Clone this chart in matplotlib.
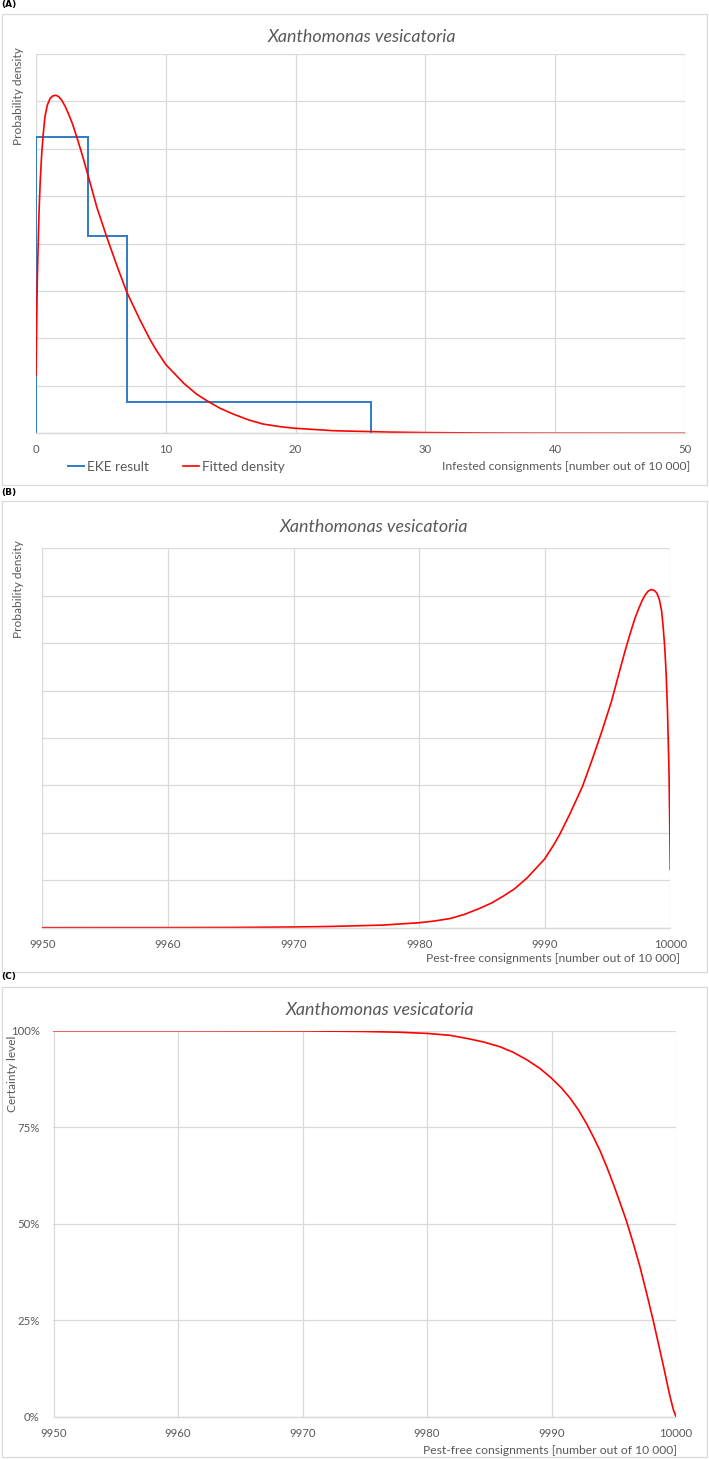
"""
Xanthomonas vesicatoria: EKE result, fitted density and certainty level
(infested vs. pest-free consignments out of 10 000).
"""

import matplotlib
matplotlib.use("Agg")
import matplotlib.pyplot as plt
from matplotlib.patches import Rectangle
from matplotlib.ticker import FixedLocator, PercentFormatter

# --- data ---
infested = [0.0, 0.05, 0.10, 0.15, 0.23, 0.33, 0.44, 0.57, 0.69, 0.87,
            1.08, 1.29, 1.54, 1.77, 1.98, 2.24, 2.49, 2.8, 3.14, 3.57,
            4.04, 4.68, 5.45, 6.22, 6.99, 8.02, 8.8, 9.31, 10.0, 11.4,
            12.4, 13.3, 14.2, 15.2, 16.4, 17.5, 18.8, 20.0, 22.9, 25.8,
            27.3, 30.0, 35.0, 40.0, 50.0]
fitted_density = [0.0245, 0.046, 0.0646, 0.0758, 0.0927, 0.107, 0.118,
                  0.127, 0.1335, 0.1384, 0.1412, 0.1423, 0.1426, 0.1419,
                  0.1405, 0.138, 0.1349, 0.1307, 0.125, 0.1173, 0.1082,
                  0.0955, 0.0828, 0.0709, 0.0596, 0.0477, 0.0394, 0.0347,
                  0.029, 0.0210, 0.0164, 0.0133, 0.0105, 0.0081, 0.0056,
                  0.0039, 0.0028, 0.0021, 0.0011, 0.0007, 0.0005, 0.0003,
                  0.0001, 0.00003, 0.0]

eke_edges = [0.0, 4.0, 7.0, 25.8]
eke_heights = [0.125, 0.0833, 0.0133]

pest_free = [9950, 9960, 9970, 9975, 9977.8, 9980, 9981.85, 9983.2,
             9984.52, 9985.9, 9986.93, 9988.0, 9989.08, 9990, 9990.82,
             9991.5, 9992.16, 9992.8, 9993.36, 9993.9, 9994.43, 9995.0,
             9995.5, 9996.0, 9996.57, 9997.1, 9997.64, 9998.2, 9998.58,
             9999.0, 9999.25, 9999.5, 9999.79, 10000]
certainty = [1.0, 1.0, 0.9995, 0.998, 0.996, 0.993, 0.988, 0.980, 0.971,
             0.958, 0.944, 0.925, 0.902, 0.877, 0.851, 0.825, 0.795, 0.760,
             0.725, 0.689, 0.648, 0.600, 0.555, 0.509, 0.449, 0.389, 0.320,
             0.245, 0.190, 0.130, 0.092, 0.055, 0.018, 0.0]

title = "Xanthomonas vesicatoria"
xticks_a = [0, 10, 20, 30, 40, 50]
xticks_bc = [9950, 9960, 9970, 9980, 9990, 10000]
yticks_c = [0.0, 0.25, 0.5, 0.75, 1.0]

# --- styling ---
W, H = 709, 1459
plt.rcParams["font.family"] = ["Lato", "DejaVu Sans"]
TXT = "#595959"
GRID = "#d9d9d9"
RED = "#ff0000"
BLUE = "#2e7bc4"


def fx(px):
    return px / W


def fy(py):
    return 1 - py / H


def add_axes(left, top, right, bottom):
    return fig.add_axes([fx(left), fy(bottom), fx(right - left),
                         (bottom - top) / H])


def style(ax):
    ax.grid(True, color=GRID, linewidth=0.9)
    ax.set_axisbelow(True)
    for side in ["top", "right", "left"]:
        ax.spines[side].set_visible(False)
    ax.spines["bottom"].set_color(GRID)
    ax.spines["bottom"].set_linewidth(1.0)
    ax.tick_params(length=0, labelsize=8.2, labelcolor=TXT, pad=8)


fig = plt.figure(figsize=(W / 100, H / 100), dpi=100)

# panel frames and letters
for top, bottom, letter, ly in [(14.3, 485, "(A)", 5),
                                (500.7, 971.7, "(B)", 492),
                                (986.7, 1457, "(C)", 977)]:
    fig.add_artist(Rectangle((fx(1.7), fy(bottom)), fx(705), (bottom - top) / H,
                             transform=fig.transFigure, fill=False,
                             edgecolor=GRID, linewidth=0.9))
    fig.text(fx(1), fy(ly), letter, fontsize=6.5, fontweight="bold",
             family=["DejaVu Sans"], va="center", ha="left")

# (A) infested consignments, density
ax1 = add_axes(36, 54, 685, 433.3)
style(ax1)
ax1.stairs(eke_heights, eke_edges, baseline=0, color=BLUE, linewidth=1.4,
           label="EKE result")
ax1.plot(infested, fitted_density, color=RED, linewidth=1.2,
         solid_joinstyle="round", label="Fitted density")
ax1.set_xlim(0, 50)
ax1.set_ylim(0, 0.16)
ax1.xaxis.set_major_locator(FixedLocator(xticks_a))
ax1.yaxis.set_major_locator(FixedLocator([i * 0.02 for i in range(9)]))
ax1.set_yticklabels([])
fig.text(fx(362), fy(37), title, fontsize=12.9, style="italic", color=TXT,
         ha="center", va="center")
fig.text(fx(19), fy(47), "Probability density", rotation=90, fontsize=8.6,
         color=TXT, ha="center", va="top")
fig.text(fx(690), fy(466.7), "Infested consignments [number out of 10 000]",
         fontsize=8.7, color=TXT, ha="right", va="center")
fig.legend(*ax1.get_legend_handles_labels(), loc="center left",
           bbox_to_anchor=(fx(68), fy(467)), ncol=2, frameon=False,
           fontsize=9.8, labelcolor=TXT, handlelength=1.2, handletextpad=0.2,
           columnspacing=2.5, borderaxespad=0, borderpad=0)

# (B) pest-free consignments, density
ax2 = add_axes(42.3, 548.3, 670.3, 927.7)
style(ax2)
ax2.plot([10000 - v for v in infested], fitted_density, color=RED,
         linewidth=1.2, solid_joinstyle="round")
ax2.set_xlim(9950, 10000)
ax2.set_ylim(0, 0.16)
ax2.xaxis.set_major_locator(FixedLocator(xticks_bc))
ax2.yaxis.set_major_locator(FixedLocator([i * 0.02 for i in range(9)]))
ax2.set_yticklabels([])
fig.text(fx(373.7), fy(526.7), title, fontsize=12.9, style="italic",
         color=TXT, ha="center", va="center")
fig.text(fx(19), fy(540), "Probability density", rotation=90, fontsize=8.6,
         color=TXT, ha="center", va="top")
fig.text(fx(680), fy(958), "Pest-free consignments [number out of 10 000]",
         fontsize=8.7, color=TXT, ha="right", va="center")

# (C) certainty level
ax3 = add_axes(53.5, 1030.7, 676, 1416.7)
style(ax3)
ax3.plot(pest_free, certainty, color=RED, linewidth=1.2,
         solid_joinstyle="round")
ax3.set_xlim(9950, 10000)
ax3.set_ylim(0, 1)
ax3.xaxis.set_major_locator(FixedLocator(xticks_bc))
ax3.yaxis.set_major_locator(FixedLocator(yticks_c))
ax3.yaxis.set_major_formatter(PercentFormatter(1.0, decimals=0))
ax3.tick_params(axis="y", pad=10)
fig.text(fx(380), fy(1010), title, fontsize=12.9, style="italic", color=TXT,
         ha="center", va="center")
fig.text(fx(12), fy(1036), "Certainty level", rotation=90, fontsize=8.6,
         color=TXT, ha="center", va="top")
fig.text(fx(677), fy(1450), "Pest-free consignments [number out of 10 000]",
         fontsize=8.7, color=TXT, ha="right", va="center")

fig.savefig("out.png", dpi=100)
